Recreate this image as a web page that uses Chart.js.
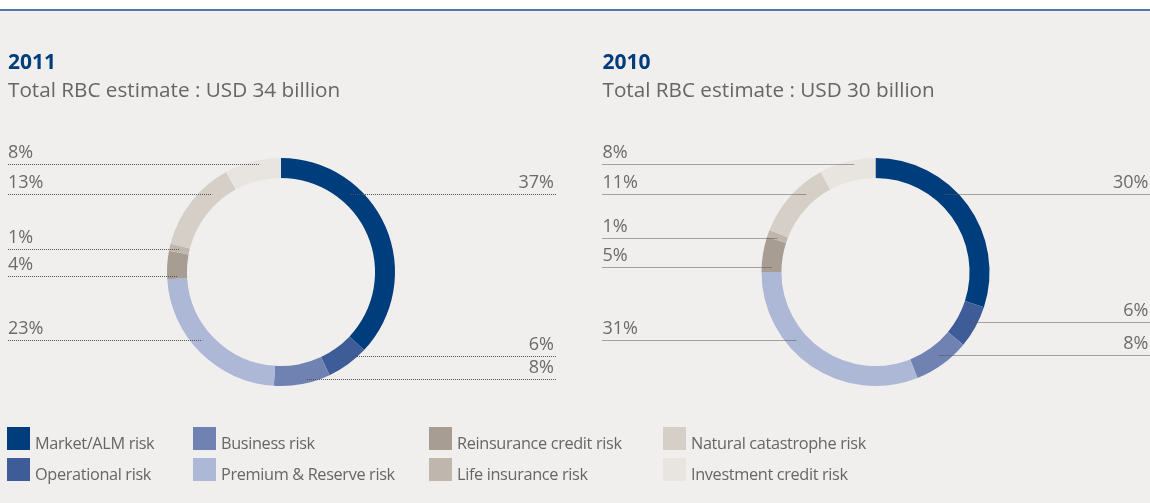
<!DOCTYPE html>
<html>
<head>
<meta charset="utf-8">
<script src="https://cdn.jsdelivr.net/npm/chart.js@4/dist/chart.umd.min.js"></script>
<style>
  html, body { margin: 0; padding: 0; }
  body { width: 1150px; height: 503px; background: #f0efed; position: relative; overflow: hidden; font-family: "Open Sans", sans-serif; }
  #topbar { position: absolute; left: 0; top: 0; width: 1150px; height: 9px; background: #fff; border-bottom: 2px solid #5079a6; }
  canvas { position: absolute; top: 0; }
  .item { position: absolute; height: 23px; }
  .item .box { position: absolute; left: 0; top: 0; width: 23px; height: 23px; }
  .item .txt { position: absolute; left: 28px; top: 5px; white-space: nowrap; font-size: 16.3px; line-height: 23px; color: #666; letter-spacing: -0.35px; }
</style>
</head>
<body>
<div id="topbar"></div>
<canvas id="c2011" width="562" height="503" style="left:0"></canvas>
<canvas id="c2010" width="549" height="503" style="left:601px"></canvas>
<div id="legend"></div>
<script>
const categories = ["Market/ALM risk", "Operational risk", "Business risk", "Premium & Reserve risk",
                    "Reinsurance credit risk", "Life insurance risk", "Natural catastrophe risk", "Investment credit risk"];
const colors = ["#003d7c", "#3e5c97", "#6f82b2", "#adb7d6", "#a79d93", "#bfb6ad", "#d5cfc8", "#e8e5e1"];
const values2011 = [37, 6, 8, 23, 4, 1, 13, 8];
const values2010 = [30, 6, 8, 31, 5, 1, 11, 8];
const years = ["2011", "2010"];
const totals = ["Total RBC estimate : USD 34 billion", "Total RBC estimate : USD 30 billion"];

// where the leader lines sit, offset from the ring centre (layout only)
const lineY2011 = [-78, 84, 107, 68, 4, -23, -78, -108];
const lineY2010 = [-78, 50, 83, 68, -5, -34, -78, -108];

const leaderPlugin = {
  id: "leaders",
  afterDatasetsDraw(chart, args, opts) {
    const meta = chart.getDatasetMeta(0);
    const ctx = chart.ctx;
    const a0 = meta.data[0];
    const cx = a0.x, cy = a0.y;
    const rOut = a0.outerRadius, rIn = a0.innerRadius, rMid = (rOut + rIn) / 2;
    const vals = chart.data.datasets[0].data;
    ctx.save();
    ctx.textBaseline = "alphabetic";
    ctx.textAlign = "left";
    ctx.fillStyle = "#003d7c";
    ctx.font = "bold 21px 'Open Sans'";
    ctx.fillText(opts.year, cx - 273, 69);
    ctx.fillStyle = "#666";
    ctx.font = "20.7px 'Open Sans'";
    ctx.fillText(opts.total, cx - 273, 97);

    meta.data.forEach((arc, i) => {
      const mid = (arc.startAngle + arc.endAngle) / 2;
      const right = Math.cos(mid) > 0;
      const dy = opts.lineY[i];
      const r = Math.abs(dy) < rMid - 5 ? rMid : rOut - 4;
      const dx = Math.sqrt(Math.max(r * r - dy * dy, 0));
      const y = Math.round(cy + dy) + 0.5;
      const xEnd = right ? cx + dx : cx - dx;
      const xOut = right ? cx + 275 : cx - 273;
      ctx.setLineDash([1, 1]);
      ctx.strokeStyle = "#555";
      ctx.lineWidth = 1;
      ctx.beginPath();
      ctx.moveTo(xOut, y);
      ctx.lineTo(xEnd, y);
      ctx.stroke();
      ctx.fillStyle = "#6b6b6b";
      ctx.font = "18px 'Open Sans'";
      ctx.textAlign = right ? "right" : "left";
      ctx.fillText(vals[i] + "%", right ? cx + 273 : cx - 273, y - 7);
    });
    ctx.restore();
  }
};

function makeChart(id, values, year, total, lineY) {
  new Chart(document.getElementById(id), {
    type: "doughnut",
    data: {
      labels: categories,
      datasets: [{ data: values, backgroundColor: colors, borderWidth: 0 }]
    },
    options: {
      responsive: false,
      animation: false,
      radius: 114,
      cutout: "82.5%",
      layout: { padding: { top: 41 } },
      plugins: {
        legend: { display: false },
        tooltip: { enabled: false },
        leaders: { year: year, total: total, lineY: lineY }
      }
    },
    plugins: [leaderPlugin]
  });
}

makeChart("c2011", values2011, years[0], totals[0], lineY2011);
makeChart("c2010", values2010, years[1], totals[1], lineY2010);

// shared legend, two rows per column
const colX = [7, 193, 429, 663];
const rowY = [427, 458];
const legend = document.getElementById("legend");
categories.forEach((name, i) => {
  const d = document.createElement("div");
  d.className = "item";
  d.style.left = colX[Math.floor(i / 2)] + "px";
  d.style.top = rowY[i % 2] + "px";
  d.innerHTML = '<div class="box" style="background:' + colors[i] + '"></div><span class="txt"></span>';
  d.querySelector(".txt").textContent = name;
  legend.appendChild(d);
});
</script>
</body>
</html>
